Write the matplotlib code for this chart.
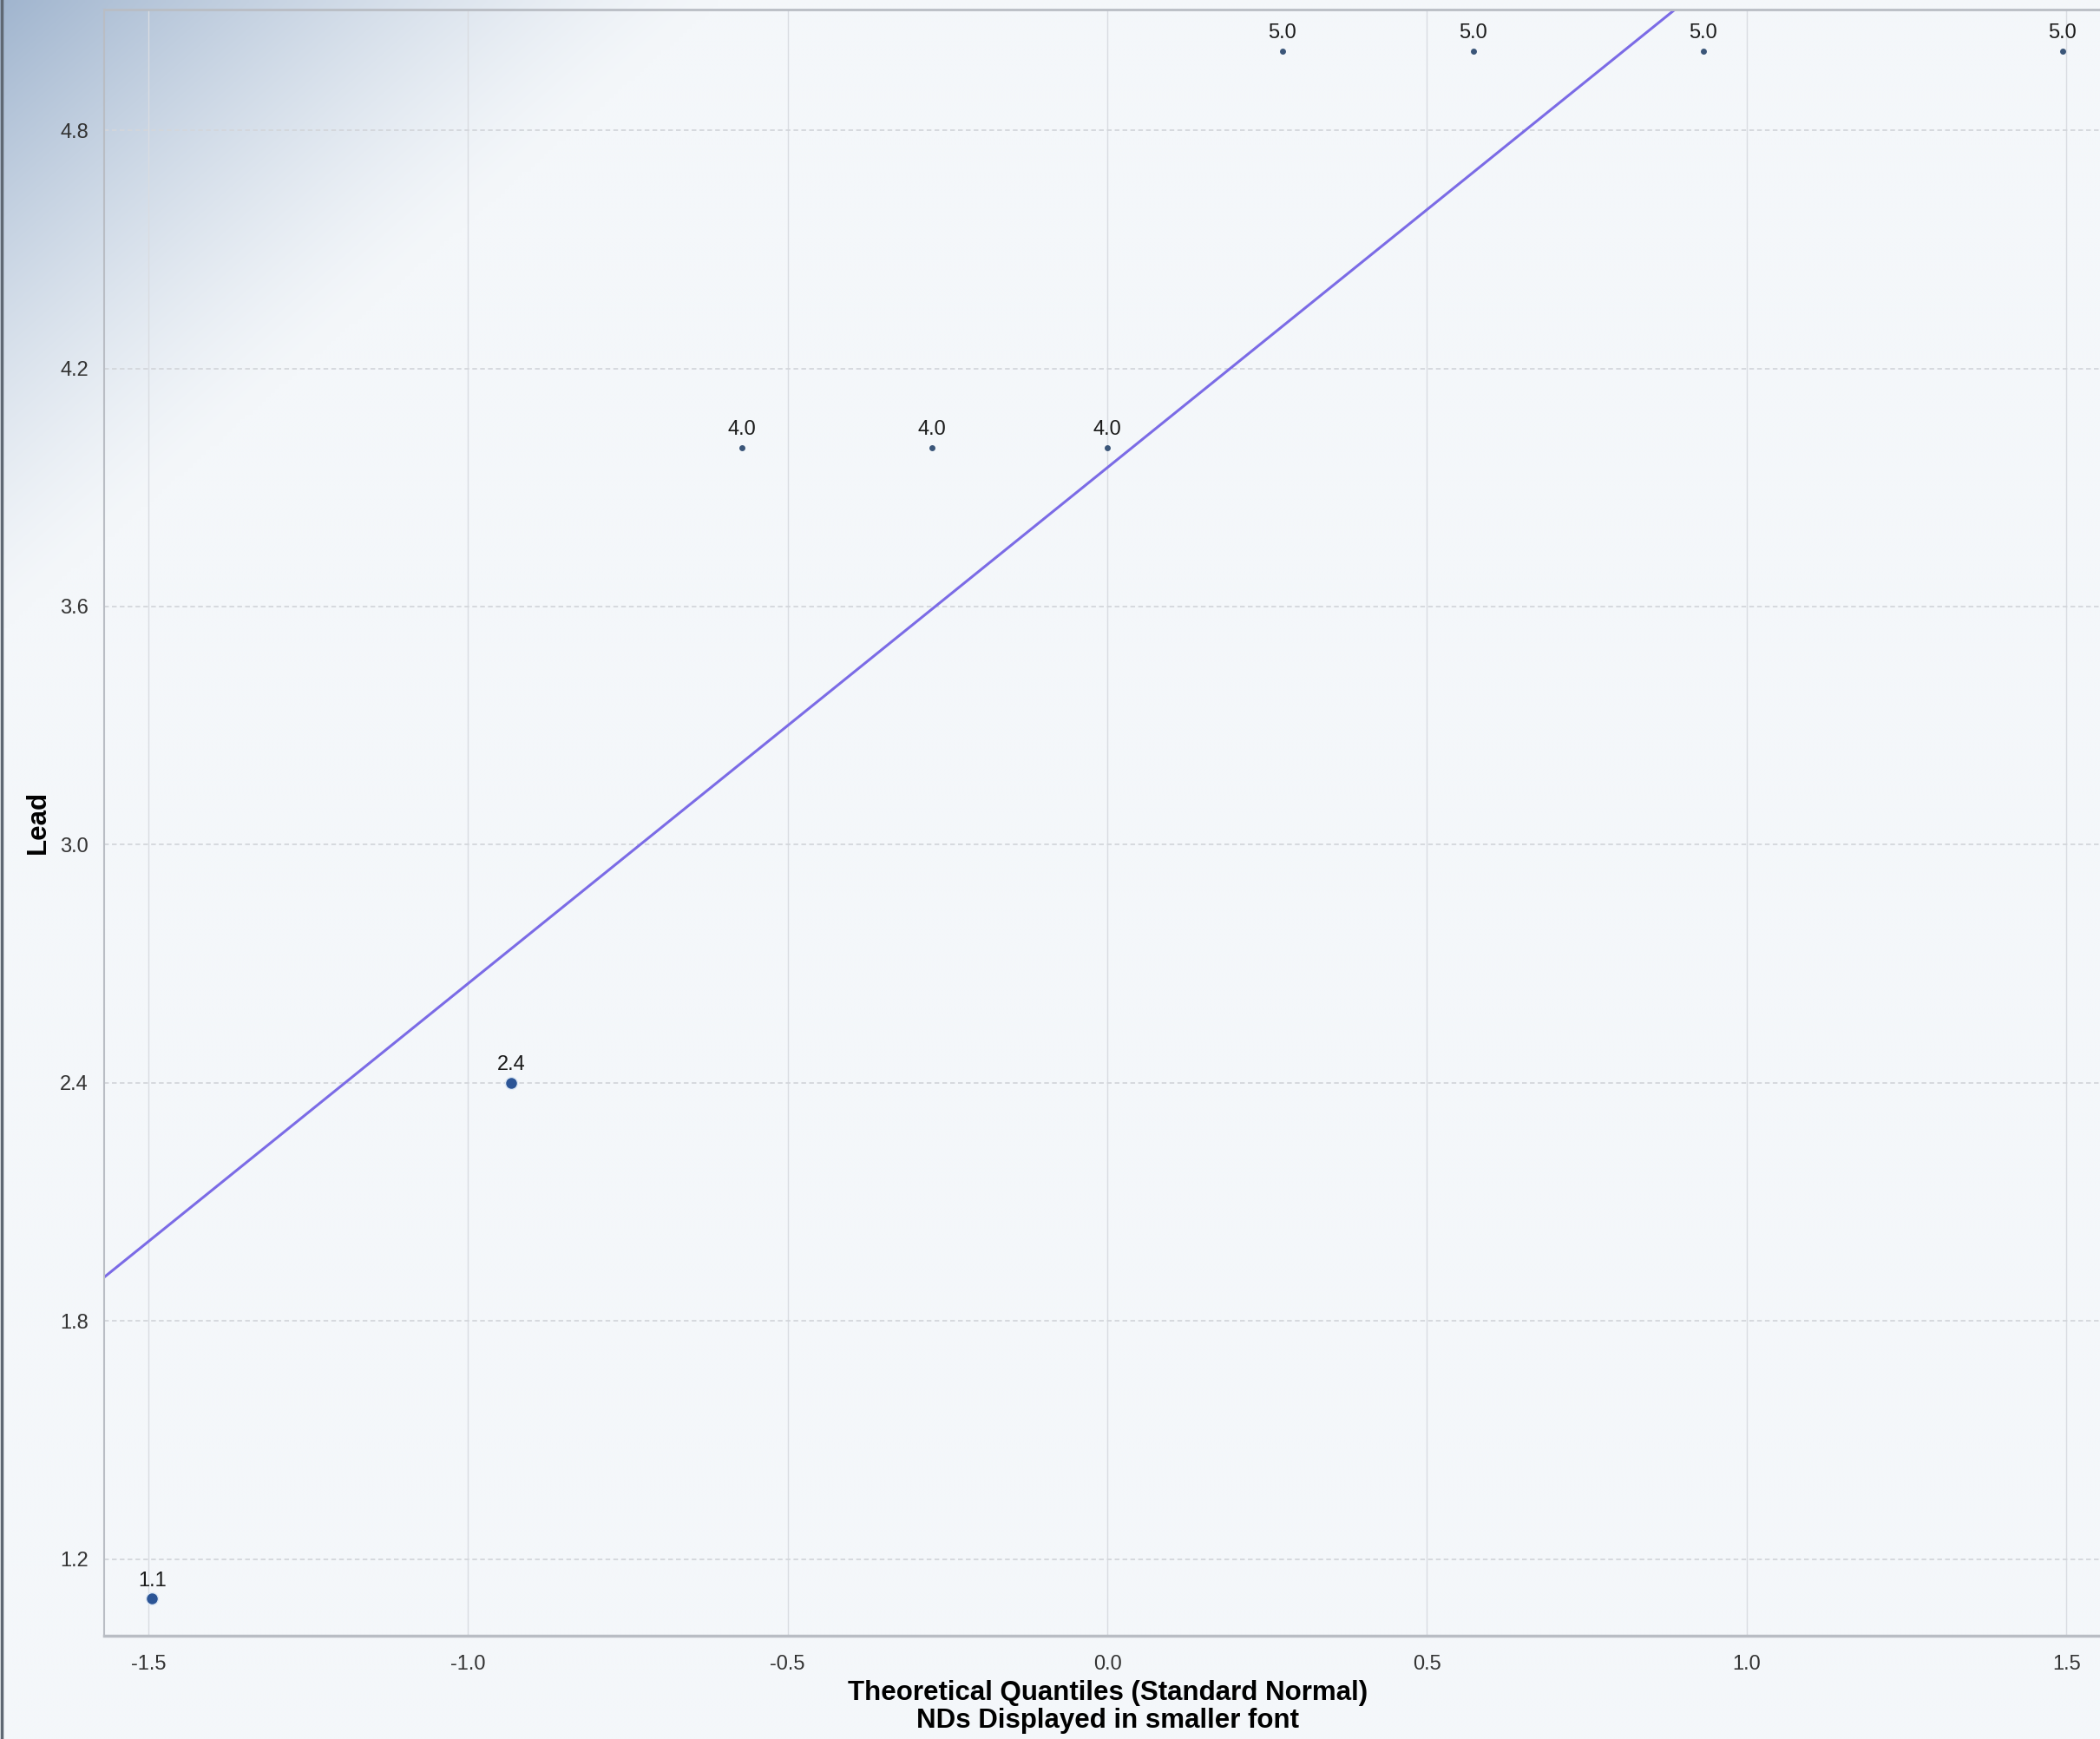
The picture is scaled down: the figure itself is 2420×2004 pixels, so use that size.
import numpy as np
import matplotlib
matplotlib.use('Agg')
import matplotlib.pyplot as plt
from matplotlib.lines import Line2D

plt.rcParams['axes.unicode_minus'] = False

# theoretical quantiles and observed Lead values
quantiles = [-1.494, -0.932, -0.572, -0.274, 0.0, 0.274, 0.572, 0.932, 1.494]
lead = [1.1, 2.4, 4.0, 4.0, 4.0, 5.0, 5.0, 5.0, 5.0]
is_nd = [False, False, True, True, True, True, True, True, True]
point_labels = ['1.1', '2.4', '4.0', '4.0', '4.0', '5.0', '5.0', '5.0', '5.0']

# reference line
line_intercept = 3.95
line_slope = 1.30

xticks = [-1.5, -1.0, -0.5, 0.0, 0.5, 1.0, 1.5]
yticks = [1.2, 1.8, 2.4, 3.0, 3.6, 4.2, 4.8]

narrow = ['Liberation Sans Narrow', 'Liberation Sans', 'DejaVu Sans']
bold = ['Liberation Sans', 'DejaVu Sans']
bg = '#f4f7fa'

fig = plt.figure(figsize=(24.2, 20.04), dpi=100)
fig.patch.set_facecolor(bg)

# top-left corner gradient of the window background
bgax = fig.add_axes([0, 0, 1, 1], zorder=-10)
h, w = 400, 484
yy, xx = np.mgrid[0:h, 0:w]
t = xx / 0.34 / w + yy / 0.36 / h
wgt = np.clip(1 - t, 0, 1) ** 1.3
c0 = np.array([0.63, 0.71, 0.81])
c1 = np.array(matplotlib.colors.to_rgb(bg))
img = c1[None, None, :] * (1 - wgt[..., None]) + c0[None, None, :] * wgt[..., None]
bgax.imshow(img, extent=[0, 1, 0, 1], aspect='auto', interpolation='bilinear')
bgax.set_axis_off()

ax = fig.add_axes([0.0496, 0.0596, 0.9554, 0.9349])
ax.set_facecolor('none')
ax.set_xlim(-1.569, 1.569)
ax.set_ylim(1.008, 5.104)

for x in xticks:
    ax.axvline(x, color='#d9dce1', lw=1.0, zorder=0)
for y in yticks:
    ax.axhline(y, color='#d3d6db', lw=1.3, ls=(0, (3, 2)), zorder=0)

ax.axline((0, line_intercept), slope=line_slope, color='#7b6be6', lw=2.2, zorder=2)

for q, v, nd, lab in zip(quantiles, lead, is_nd, point_labels):
    if nd:
        ax.plot(q, v, 'o', ms=5, color='#3b5679', mec='none', zorder=3)
    else:
        ax.plot(q, v, 'o', ms=10, color='#2c5596', mec='#dce8f5', mew=1.0, zorder=3)
    ax.annotate(lab, (q, v), xytext=(0, 7), textcoords='offset points',
                ha='center', va='bottom', fontsize=17, family=narrow, color='#1a1a1a')

ax.set_xticks(xticks)
ax.set_xticklabels(['{:.1f}'.format(x) for x in xticks])
ax.set_yticks(yticks)
ax.set_yticklabels(['{:.1f}'.format(y) for y in yticks])
ax.tick_params(axis='both', length=0, labelsize=17, colors='#333333')
ax.tick_params(axis='x', pad=16)
ax.tick_params(axis='y', pad=13)
for lab in ax.get_xticklabels() + ax.get_yticklabels():
    lab.set_family(narrow)

for s in ['left', 'bottom', 'top']:
    ax.spines[s].set_color('#b9bdc4')
ax.spines['bottom'].set_linewidth(2.5)
ax.spines['top'].set_linewidth(2.0)
ax.spines['left'].set_linewidth(1.5)
ax.spines['right'].set_visible(False)

ax.set_xlabel('Theoretical Quantiles (Standard Normal)\nNDs Displayed in smaller font',
              fontsize=22.5, fontweight='bold', family=bold, linespacing=1.12)
ax.xaxis.set_label_coords(0.5, -0.0272)
ax.set_ylabel('Lead', fontsize=22.5, fontweight='bold', family=bold)
ax.yaxis.set_label_coords(-0.0265, 0.5)

# left window border
fig.add_artist(Line2D([0.0007, 0.0007], [0, 1], color='#5f6873', lw=2.5,
                      transform=fig.transFigure))

fig.savefig('out.png', dpi=100, facecolor=fig.get_facecolor())
